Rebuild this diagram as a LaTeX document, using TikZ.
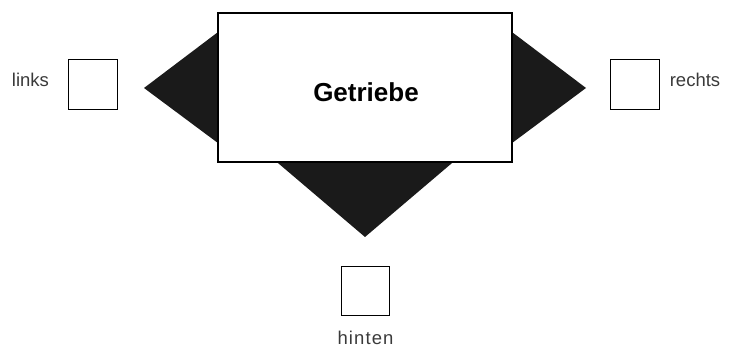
\documentclass[tikz,border=0pt]{standalone}
\usepackage{fontspec}
\setmainfont{Liberation Sans}
\definecolor{tri}{HTML}{1A1A1A}
\definecolor{lab}{HTML}{3A3A3A}
\begin{document}
\begin{tikzpicture}[x=1pt,y=-1pt,
  mainbox/.style={draw=black,line width=1.5pt,fill=white,minimum width=294pt,minimum height=149pt,inner sep=0pt},
  smallbox/.style={draw=black,line width=0.9pt,fill=white,minimum width=49pt,minimum height=50pt,inner sep=0pt},
  lbl/.style={text=lab,font=\fontsize{18.5}{20}\selectfont,inner sep=0pt,anchor=base},
  trifill/.style={fill=tri,draw=none}]
\useasboundingbox (0,0) rectangle (730,347);
% triangles (drawn first, box on top)
\coordinate (ltip) at (144,88);
\coordinate (rtip) at (586,88);
\coordinate (btip) at (365,237);
\fill[tri] (ltip) -- (230,23) -- (230,152) -- cycle;
\fill[tri] (rtip) -- (500,23) -- (500,152) -- cycle;
\fill[tri] (btip) -- (265,152) -- (465,152) -- cycle;
\node[mainbox] (box) at (365,87.5) {};
\node[font=\bfseries\fontsize{26}{28}\selectfont,inner sep=0pt,anchor=base] (gt) at (366,102) {Getriebe};
\node[smallbox] (lsq) at (92.5,84) {};
\node[smallbox] (rsq) at (634.5,84) {};
\node[smallbox,minimum width=48pt,minimum height=49pt] (bsq) at (365,290.5) {};
\node[lbl] (ll) at (30.5,87) {links};
\node[lbl] (rl) at (695,87) {rechts};
\node[lbl,font=\fontsize{18.5}{20}\selectfont\addfontfeature{LetterSpace=6}] (bl) at (365.5,344) {hinten};
\end{tikzpicture}
\end{document}
